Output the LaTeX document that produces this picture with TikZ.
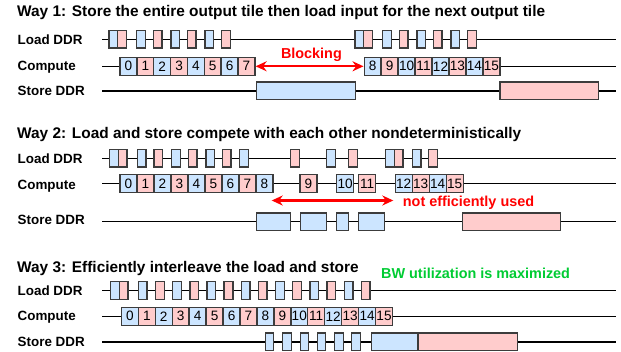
\documentclass[tikz,border=0pt]{standalone}
\usepackage{fontspec}
\setmainfont{Liberation Sans}
\usetikzlibrary{arrows.meta}
\definecolor{bblue}{HTML}{CCE5FF}
\definecolor{bpink}{HTML}{FFCCCC}
\definecolor{bstroke}{HTML}{3C3C3C}
\definecolor{ared}{HTML}{FF0000}
\definecolor{agreen}{HTML}{00CC33}
\tikzset{
 rowline/.style={line width=1.5pt, black},
 lbox/.style={draw=bstroke, line width=1.4pt, minimum width=8.7pt, minimum height=17.5pt, inner sep=0pt, anchor=west},
 cbox/.style={draw=bstroke, line width=1.4pt, minimum width=17pt, minimum height=18pt, inner sep=0pt, anchor=west, font=\fontsize{13.6}{14}\selectfont},
 sbox/.style={draw=bstroke, line width=1.4pt, minimum height=17.5pt, inner sep=0pt, anchor=west},
 waytitle/.style={anchor=base west, font=\bfseries\fontsize{15.4}{18}\selectfont, inner sep=0pt},
 lab/.style={anchor=base west, font=\bfseries\fontsize{13.4}{16}\selectfont, inner sep=0pt},
 redarrow/.style={draw=ared, line width=2.2pt, {Stealth[length=11pt,width=10pt]}-{Stealth[length=11pt,width=10pt]}},
 note/.style={font=\bfseries\fontsize{14.4}{17}\selectfont, inner sep=0pt},
}
\begin{document}
\begin{tikzpicture}[x=1pt,y=-1pt]
\useasboundingbox (0,0) rectangle (621,351);
\fill[white] (0,0) rectangle (621,351);

% ---------------- Way 1 ----------------
\node[waytitle] (t1) at (17,16.5) {Way 1: Store the entire output tile then load input for the next output tile};
\node[lab] (l1a) at (17.5,44) {Load DDR};
\node[lab] (l1b) at (17.5,70.5) {Compute};
\node[lab] (l1c) at (17.5,95.3) {Store DDR};

\coordinate (a1ls) at (102,39.3); \coordinate (a1le) at (616,39.3);
\coordinate (a1cs) at (102,66.3); \coordinate (a1ce) at (616,66.3);
\coordinate (a1ss) at (102,90.8); \coordinate (a1se) at (616,90.8);
\draw[rowline] (a1ls) -- (a1le);
\draw[rowline] (a1ss) -- (a1se);

\foreach \x/\c [count=\i] in {108.3/bblue,117.0/bpink,136/bblue,152.7/bpink,170.3/bblue,186.7/bpink,204.3/bblue,221/bpink,354.3/bblue,363.0/bpink,382/bblue,398.7/bpink,416.3/bblue,432.7/bpink,450.3/bblue,467/bpink}
  \node[lbox, fill=\c] (a1l\i) at (\x,39.3) {};

\foreach \n/\c in {0/bblue,1/bpink,2/bblue,3/bpink,4/bblue,5/bpink,6/bblue,7/bpink}
  \node[cbox, fill=\c] (a1c\n) at ({119.3+\n*16.85},66.3) {\n};
\foreach \n/\c in {8/bblue,9/bpink,10/bblue,11/bpink,12/bblue,13/bpink,14/bblue,15/bpink}
  \node[cbox, fill=\c] (a1c\n) at ({363.5+(\n-8)*16.95},66.3) {\n};
\draw[rowline] (a1cs) -- (a1c0.west);
\draw[rowline] (a1c15.east) -- (a1ce);
\draw[redarrow] (a1c7.east) -- (a1c8.west);
\node[note, text=ared, anchor=base] (blk) at (311.4,58) {Blocking};

\node[sbox, fill=bblue, minimum width=99pt] (a1s1) at (256,90.8) {};
\node[sbox, fill=bpink, minimum width=98.4pt] (a1s2) at (499.3,90.8) {};

% ---------------- Way 2 ----------------
\node[waytitle] (t2) at (17,138) {Way 2: Load and store compete with each other nondeterministically};
\node[lab] (l2a) at (17.5,163.3) {Load DDR};
\node[lab] (l2b) at (17.5,189) {Compute};
\node[lab] (l2c) at (17.5,224) {Store DDR};

\coordinate (a2ls) at (102,158.3); \coordinate (a2le) at (616,158.3);
\coordinate (a2cs) at (102,183.7); \coordinate (a2ce) at (616,183.7);
\coordinate (a2ss) at (102,221.6); \coordinate (a2se) at (616,221.6);
\draw[rowline] (a2ls) -- (a2le);
\draw[rowline] (a2cs) -- (a2ce);
\draw[rowline] (a2ss) -- (a2se);

\foreach \x/\c [count=\i] in {109/bblue,117.7/bpink,136.7/bblue,153.3/bpink,171/bblue,187.7/bpink,205.3/bblue,221.7/bpink,239/bblue,290/bpink,326/bblue,348/bpink,385/bblue,393.7/bpink,411.5/bblue,428/bpink}
  \node[lbox, fill=\c] (a2l\i) at (\x,158.3) {};

\foreach \n/\c in {0/bblue,1/bpink,2/bblue,3/bpink,4/bblue,5/bpink,6/bblue,7/bpink,8/bblue}
  \node[cbox, fill=\c] (a2c\n) at ({119.3+\n*17},183.7) {\n};
\foreach \n/\x/\c in {9/299.3/bpink,10/336/bblue,11/358/bpink,12/394.5/bblue,13/411.5/bpink,14/428.5/bblue,15/445.5/bpink}
  \node[cbox, fill=\c] (a2c\n) at (\x,183.7) {\n};

\coordinate (a2al) at (271.7,200.5);
\coordinate (a2ar) at (393.3,200.5);
\draw[redarrow] (a2al) -- (a2ar);
\node[note, text=ared, anchor=base west] (nev) at (402.7,206.5) {not efficiently used};

\node[sbox, fill=bblue, minimum width=34pt] (a2s1) at (256,221.6) {};
\node[sbox, fill=bblue, minimum width=26pt] (a2s2) at (300,221.6) {};
\node[sbox, fill=bblue, minimum width=12.5pt] (a2s3) at (335.5,221.6) {};
\node[sbox, fill=bblue, minimum width=26pt] (a2s4) at (358,221.6) {};
\node[sbox, fill=bpink, minimum width=98.3pt] (a2s5) at (461.7,221.6) {};

% ---------------- Way 3 ----------------
\node[waytitle] (t3) at (17,272) {Way 3: Efficiently interleave the load and store};
\node[note, text=agreen, anchor=base west] (bw) at (381,278.3) {BW utilization is maximized};
\node[lab] (l3a) at (17.5,295.7) {Load DDR};
\node[lab] (l3b) at (17.5,320) {Compute};
\node[lab] (l3c) at (17.5,346) {Store DDR};

\coordinate (a3ls) at (102,290.5); \coordinate (a3le) at (616,290.5);
\coordinate (a3cs) at (102,316.3); \coordinate (a3ce) at (616,316.3);
\coordinate (a3ss) at (102,341.8); \coordinate (a3se) at (616,341.8);
\draw[rowline] (a3ls) -- (a3le);
\draw[rowline] (a3cs) -- (a3ce);
\draw[rowline] (a3ss) -- (a3se);

\node[lbox, fill=bblue] (a3l1) at (110,290.5) {};
\node[lbox, fill=bpink] (a3l2) at (118.7,290.5) {};
\foreach \k/\c in {0/bblue,1/bpink,2/bblue,3/bpink,4/bblue,5/bpink,6/bblue,7/bpink,8/bblue,9/bpink,10/bblue,11/bpink,12/bblue,13/bpink}
  \node[lbox, fill=\c] (a3m\k) at ({137.7+\k*17.15},290.5) {};

\foreach \n/\c in {0/bblue,1/bpink,2/bblue,3/bpink,4/bblue,5/bpink,6/bblue,7/bpink,8/bblue,9/bpink,10/bblue,11/bpink,12/bblue,13/bpink,14/bblue,15/bpink}
  \node[cbox, fill=\c] (a3c\n) at ({120.7+\n*16.94},316.3) {\n};

\foreach \x [count=\i] in {264.5,282,299.5,316.5,334,351}
  \node[sbox, fill=bblue, minimum width=8.5pt] (a3s\i) at (\x,341.8) {};
\node[sbox, fill=bblue, minimum width=46.6pt] (a3sb) at (370.7,341.8) {};
\node[sbox, fill=bpink, minimum width=99.4pt] (a3sp) at (417.3,341.8) {};
\end{tikzpicture}
\end{document}
